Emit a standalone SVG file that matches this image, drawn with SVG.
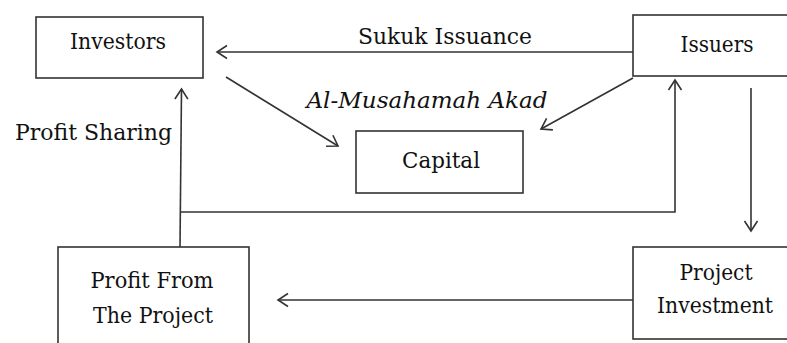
<svg xmlns="http://www.w3.org/2000/svg" width="787" height="343" viewBox="0 0 787 343">
<style>
.box{fill:#fff;stroke:#333;stroke-width:1.6}
.t{font-family:"DejaVu Serif","Liberation Serif",serif;font-size:23px;fill:#111}
.c{stroke:#333;stroke-width:1.6;fill:none}
</style>
<defs>
<marker id="arr" markerUnits="userSpaceOnUse" markerWidth="16" markerHeight="16" refX="13" refY="8" orient="auto">
<path d="M3,1.5 L13,8 L3,14.5" fill="none" stroke="#333" stroke-width="1.6"/>
</marker>
</defs>
<rect width="787" height="343" fill="#fff"/>
<g id="investors"><rect class="box" x="36" y="17" width="167" height="61"/><text class="t" x="118" y="49" text-anchor="middle" textLength="96" lengthAdjust="spacingAndGlyphs">Investors</text></g>
<g id="issuers"><rect class="box" x="633" y="15" width="160" height="61"/><text class="t" x="717" y="52" text-anchor="middle" textLength="73" lengthAdjust="spacingAndGlyphs">Issuers</text></g>
<g id="capital"><rect class="box" x="356" y="131" width="167" height="62"/><text class="t" x="441" y="168" text-anchor="middle" textLength="78" lengthAdjust="spacingAndGlyphs">Capital</text></g>
<g id="profit"><rect class="box" x="58" y="247" width="191" height="110"/><text class="t" x="152" y="288" text-anchor="middle" textLength="123" lengthAdjust="spacingAndGlyphs">Profit From</text><text class="t" x="153" y="323" text-anchor="middle" textLength="120" lengthAdjust="spacingAndGlyphs">The Project</text></g>
<g id="project"><rect class="box" x="633" y="247" width="160" height="92"/><text class="t" x="716" y="280" text-anchor="middle" textLength="73" lengthAdjust="spacingAndGlyphs">Project</text><text class="t" x="715" y="313" text-anchor="middle" textLength="116" lengthAdjust="spacingAndGlyphs">Investment</text></g>
<g id="connectors">
<line class="c" x1="633" y1="52" x2="217" y2="52" marker-end="url(#arr)"/>
<line class="c" x1="226" y1="77" x2="338" y2="146" marker-end="url(#arr)"/>
<line class="c" x1="633" y1="78" x2="541" y2="129" marker-end="url(#arr)"/>
<line class="c" x1="180" y1="247" x2="181.5" y2="89" marker-end="url(#arr)"/>
<polyline class="c" points="180,212 675,212 675,80" marker-end="url(#arr)"/>
<line class="c" x1="751" y1="88" x2="751" y2="231" marker-end="url(#arr)"/>
<line class="c" x1="633" y1="300" x2="278" y2="300" marker-end="url(#arr)"/>
</g>
<g id="labels">
<text class="t" x="445" y="44" text-anchor="middle" textLength="174" lengthAdjust="spacingAndGlyphs">Sukuk Issuance</text>
<text class="t" x="427" y="108" text-anchor="middle" font-style="italic" textLength="241" lengthAdjust="spacingAndGlyphs">Al-Musahamah Akad</text>
<text class="t" x="15" y="140" textLength="157" lengthAdjust="spacingAndGlyphs">Profit Sharing</text>
</g>
</svg>
